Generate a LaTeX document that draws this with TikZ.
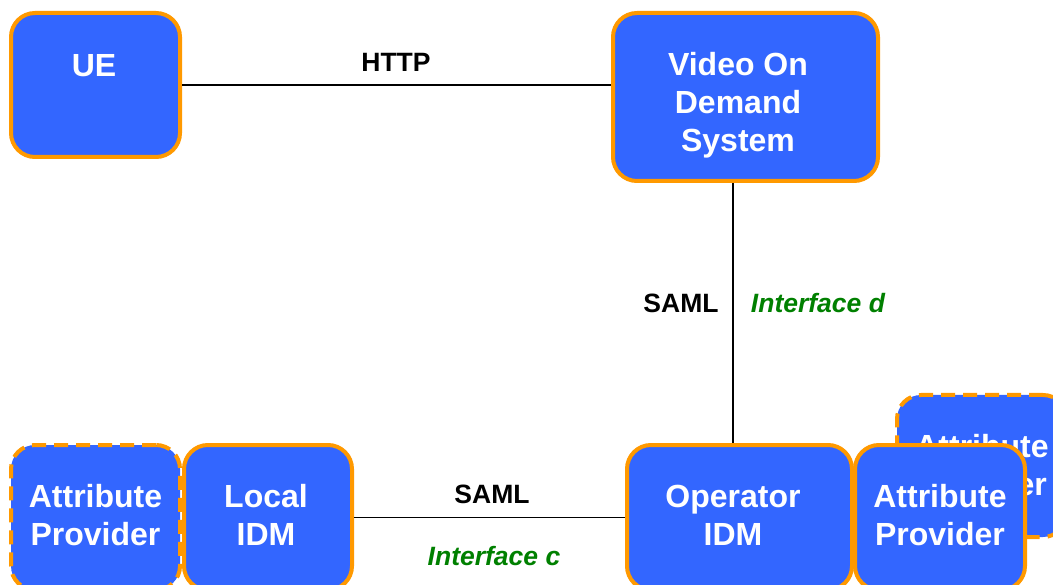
\documentclass[tikz,border=0pt]{standalone}
\usepackage{fontspec}
\setmainfont{Liberation Sans}
\definecolor{boxblue}{RGB}{51,102,255}
\definecolor{rimorange}{RGB}{255,153,0}
\definecolor{ifgreen}{RGB}{0,128,0}
\tikzset{
  entity/.style={draw=rimorange, fill=boxblue, line width=4pt, rounded corners=24pt,
    inner sep=0pt, minimum width=#1},
  entity/.default=170pt,
  optional/.style={dash pattern=on 14pt off 8pt},
  boxtext/.style={anchor=north, inner sep=0pt, align=center, text=white,
    font=\bfseries\fontsize{32}{38}\selectfont},
  proto/.style={inner sep=0pt, font=\bfseries\fontsize{26.5}{30}\selectfont},
  iface/.style={inner sep=0pt, text=ifgreen, font=\bfseries\itshape\fontsize{26.5}{30}\selectfont},
  link/.style={line width=1.6pt, black}
}
\begin{document}
\begin{tikzpicture}[x=1pt, y=-1pt]
\useasboundingbox (0,0) rectangle (1053,585);
\clip (0,0) rectangle (1053,585);

% top row
\node[entity=169pt, minimum height=144pt] (ue) at (95.5,85) {};
\node[boxtext] at ([xshift=-1.5pt, yshift=-38.5pt]ue.north) {\strut UE};
\node[entity=265pt, minimum height=168pt] (vod) at (745.5,97) {};
\node[boxtext] at ([xshift=-7.5pt, yshift=-37.5pt]vod.north) {\strut Video On\\Demand\\System};

% bottom row, left group
\node[entity=169pt, minimum height=145pt, optional] (apl) at (95.5,517.5) {};
\node[boxtext] at ([yshift=-37.5pt]apl.north) {\strut Attribute\\Provider};
\node[entity=168pt, minimum height=145pt] (lidm) at (268,517.5) {};
\node[boxtext] at ([xshift=-2pt, yshift=-37.5pt]lidm.north) {\strut Local\\IDM};

% bottom row, right group
\node[entity=170pt, minimum height=142pt, optional] (apb) at (982,466) {};
\node[boxtext] at ([yshift=-37.5pt]apb.north) {\strut Attribute\\Provider};
\node[entity=225pt, minimum height=145pt] (op) at (739.5,517.5) {};
\node[boxtext] at ([xshift=-6.5pt, yshift=-37.5pt]op.north) {\strut Operator\\IDM};
\node[entity=170pt, minimum height=145pt] (apr) at (940,517.5) {};
\node[boxtext] at ([yshift=-37.5pt]apr.north) {\strut Attribute\\Provider};

% interfaces
\draw[link] (ue.east) -- (ue.east -| vod.west);
\draw[link] ([xshift=-12.5pt]vod.south) -- ([xshift=-12.5pt]vod.south |- op.north);
\draw[link] (lidm.east) -- (lidm.east -| op.west);

\node[proto] (lhttp) at (396,62) {HTTP};
\node[proto] (lsamld) at (681,303) {SAML};
\node[iface] (lifd) at (818,303) {Interface d};
\node[proto] (lsamlc) at (492,494) {SAML};
\node[iface] (lifc) at (494,556) {Interface c};
\end{tikzpicture}
\end{document}
